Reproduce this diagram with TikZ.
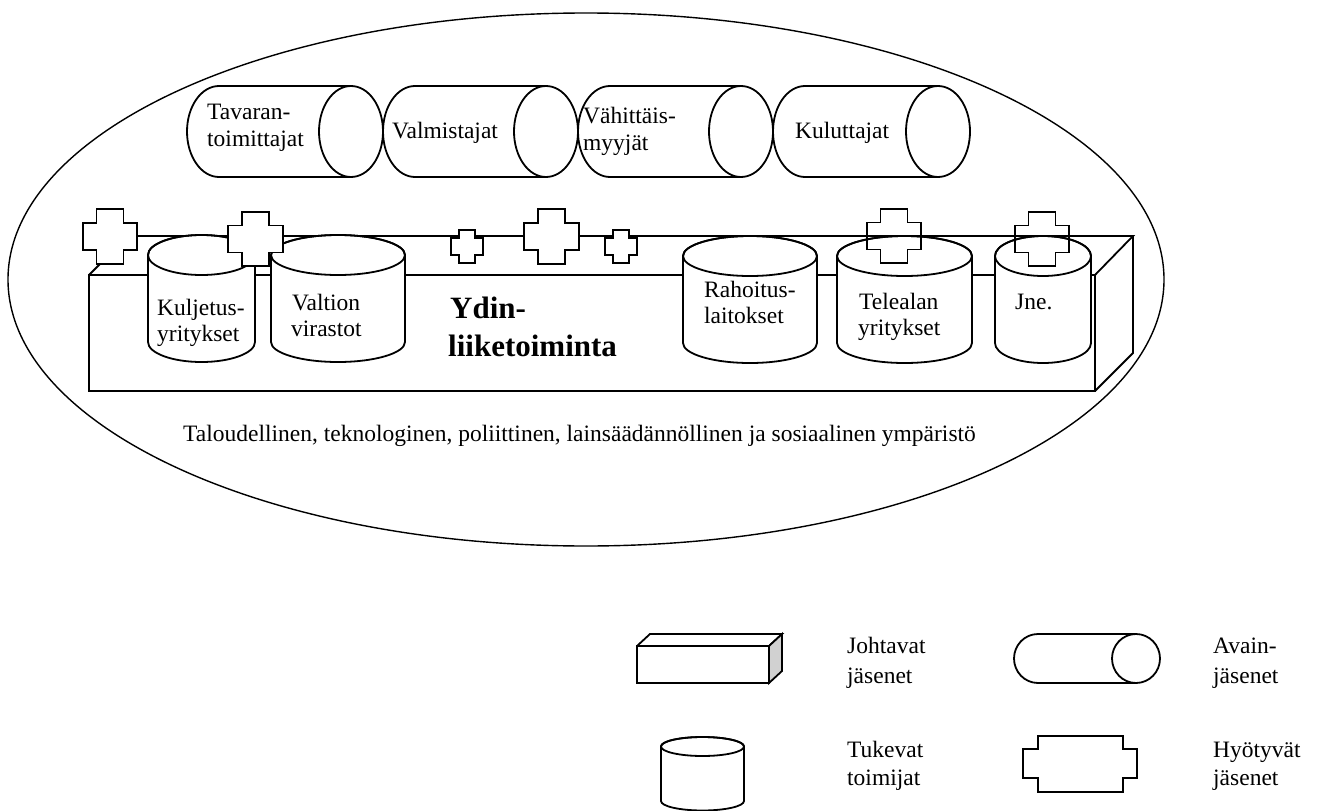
\documentclass[tikz,border=0pt]{standalone}
\usepackage{fontspec}
\setmainfont{Liberation Serif}
\newcommand{\KeyCyl}[5]{%
  \pgfmathsetmacro\kcry{(#4-#3)/2}%
  \pgfmathsetmacro\kccy{(#4+#3)/2}%
  \pgfmathsetmacro\kcl{#1+#5}%
  \pgfmathsetmacro\kcr{#2-#5}%
  \draw[ln] (\kcl,#3) -- (\kcr,#3) (\kcl,#3) arc[start angle=270,end angle=90,x radius=#5,y radius=\kcry] -- (\kcr,#4)
    (\kcr,\kccy) ellipse[x radius=#5,y radius=\kcry];
}
\newcommand{\SupCyl}[5]{%
  \pgfmathsetmacro\scrx{(#2-#1)/2}%
  \pgfmathsetmacro\sccx{(#2+#1)/2}%
  \filldraw[ln,fill=white] (#1,#3) -- (#1,#4) arc[start angle=180,end angle=0,x radius=\scrx,y radius=#5] -- (#2,#3)
    arc[start angle=0,end angle=-180,x radius=\scrx,y radius=#5] -- cycle;
  \draw[ln] (\sccx,#3) ellipse[x radius=\scrx,y radius=#5];
}
\newcommand{\PlusShape}[5]{%
  \draw[ln,fill=#5] ({#1-#3/2},{#2-#4}) -- ++({#3},0) -- ++(0,{#4/2}) -- ++({#3/2},0) -- ++(0,{#4}) -- ++({-#3/2},0)
    -- ++(0,{#4/2}) -- ++({-#3},0) -- ++(0,{-#4/2}) -- ++({-#3/2},0) -- ++(0,{-#4}) -- ++({#3/2},0) -- cycle;
}
\begin{document}
\begin{tikzpicture}[x=1pt,y=-1pt,
  ln/.style={line width=1.8pt,line join=miter},
  txt/.style={anchor=base west,inner sep=0pt,font=\fontsize{23.5}{26}\selectfont},
  lgtxt/.style={anchor=base west,inner sep=0pt,font=\fontsize{23.5}{28}\selectfont},
  bold/.style={anchor=base west,inner sep=0pt,font=\fontsize{31}{38}\selectfont\bfseries}]
\useasboundingbox (0,0) rectangle (1318,811);
\fill[white] (0,0) rectangle (1318,811);
% environment ellipse
\draw[line width=1.4pt] (586,279.5) ellipse[x radius=578,y radius=266.5];
% key members
\KeyCyl{187}{383}{86}{177}{32}
\KeyCyl{383}{578}{86}{177}{32}
\KeyCyl{578}{773}{86}{177}{32}
\KeyCyl{773}{970}{86}{177}{32}
% leading member box
\draw[ln] (89,275) rectangle (1095,391);
\draw[ln] (89,275) -- (128,236) -- (1133,236) -- (1095,275);
\draw[ln] (1095,391) -- (1133,353) -- (1133,236);
% support cylinders
\SupCyl{148}{255}{255}{342}{20}
\SupCyl{271}{405}{255}{342}{20}
\SupCyl{683}{817}{256}{343}{20}
\SupCyl{837}{972}{256}{343}{20}
\SupCyl{995}{1091}{256}{343}{20}
% beneficiaries
\PlusShape{110}{236.5}{27}{27.5}{white}
\PlusShape{255.5}{239}{27.5}{27}{white}
\PlusShape{467}{246.5}{16}{16.5}{white}
\PlusShape{551.5}{236.5}{27.5}{27.5}{white}
\PlusShape{621}{246.5}{16}{16.5}{white}
\PlusShape{894}{236}{27}{27}{none}
\PlusShape{1042}{239}{27}{27}{none}
% texts
\node[txt] (tav) at (207,119) {Tavaran-};
\node[txt] (toi) at (207,146) {toimittajat};
\node[txt] (val) at (392,138) {Valmistajat};
\node[txt] (vah) at (583,123) {Vähittäis-};
\node[txt] (myy) at (583,150) {myyjät};
\node[txt] (kul) at (795,138) {Kuluttajat};
\node[txt] (klj) at (157,315) {Kuljetus-};
\node[txt] (kly) at (157,341) {yritykset};
\node[txt] (vlt) at (292,310) {Valtion};
\node[txt] (vir) at (291,336) {virastot};
\node[txt] (rah) at (704,297) {Rahoitus-};
\node[txt] (lai) at (704,323) {laitokset};
\node[txt] (tel) at (859,309) {Telealan};
\node[txt] (tey) at (858,335) {yritykset};
\node[txt] (jne) at (1015,309) {Jne.};
\node[bold] (ydin) at (450,318) {Ydin-};
\node[bold] (liik) at (448,356) {liiketoiminta};
\node[txt] (env) at (183,441) {Taloudellinen, teknologinen, poliittinen, lainsäädännöllinen ja sosiaalinen ympäristö};
% legend
\draw[ln] (637,646) rectangle (769,683);
\draw[ln] (637,646) -- (650,634) -- (782,634) -- (769,646);
\filldraw[ln,fill=black!18] (769,646) -- (782,634) -- (782,671) -- (769,683) -- cycle;
\KeyCyl{1014}{1160}{634}{683}{24}
\SupCyl{661}{744}{746.5}{801}{9.5}
\draw[ln] (1038,736) -- (1123,736) -- (1123,749) -- (1137,749) -- (1137,778) -- (1123,778) -- (1123,792)
  -- (1038,792) -- (1038,778) -- (1023,778) -- (1023,749) -- (1038,749) -- cycle;
\node[lgtxt] (lj1) at (847,653) {Johtavat};
\node[lgtxt] (lj2) at (847,683) {jäsenet};
\node[lgtxt] (la1) at (1213,653) {Avain-};
\node[lgtxt] (la2) at (1213,683) {jäsenet};
\node[lgtxt] (lt1) at (847,757) {Tukevat};
\node[lgtxt] (lt2) at (847,785) {toimijat};
\node[lgtxt] (lh1) at (1213,757) {Hyötyvät};
\node[lgtxt] (lh2) at (1213,785) {jäsenet};
\end{tikzpicture}
\end{document}
